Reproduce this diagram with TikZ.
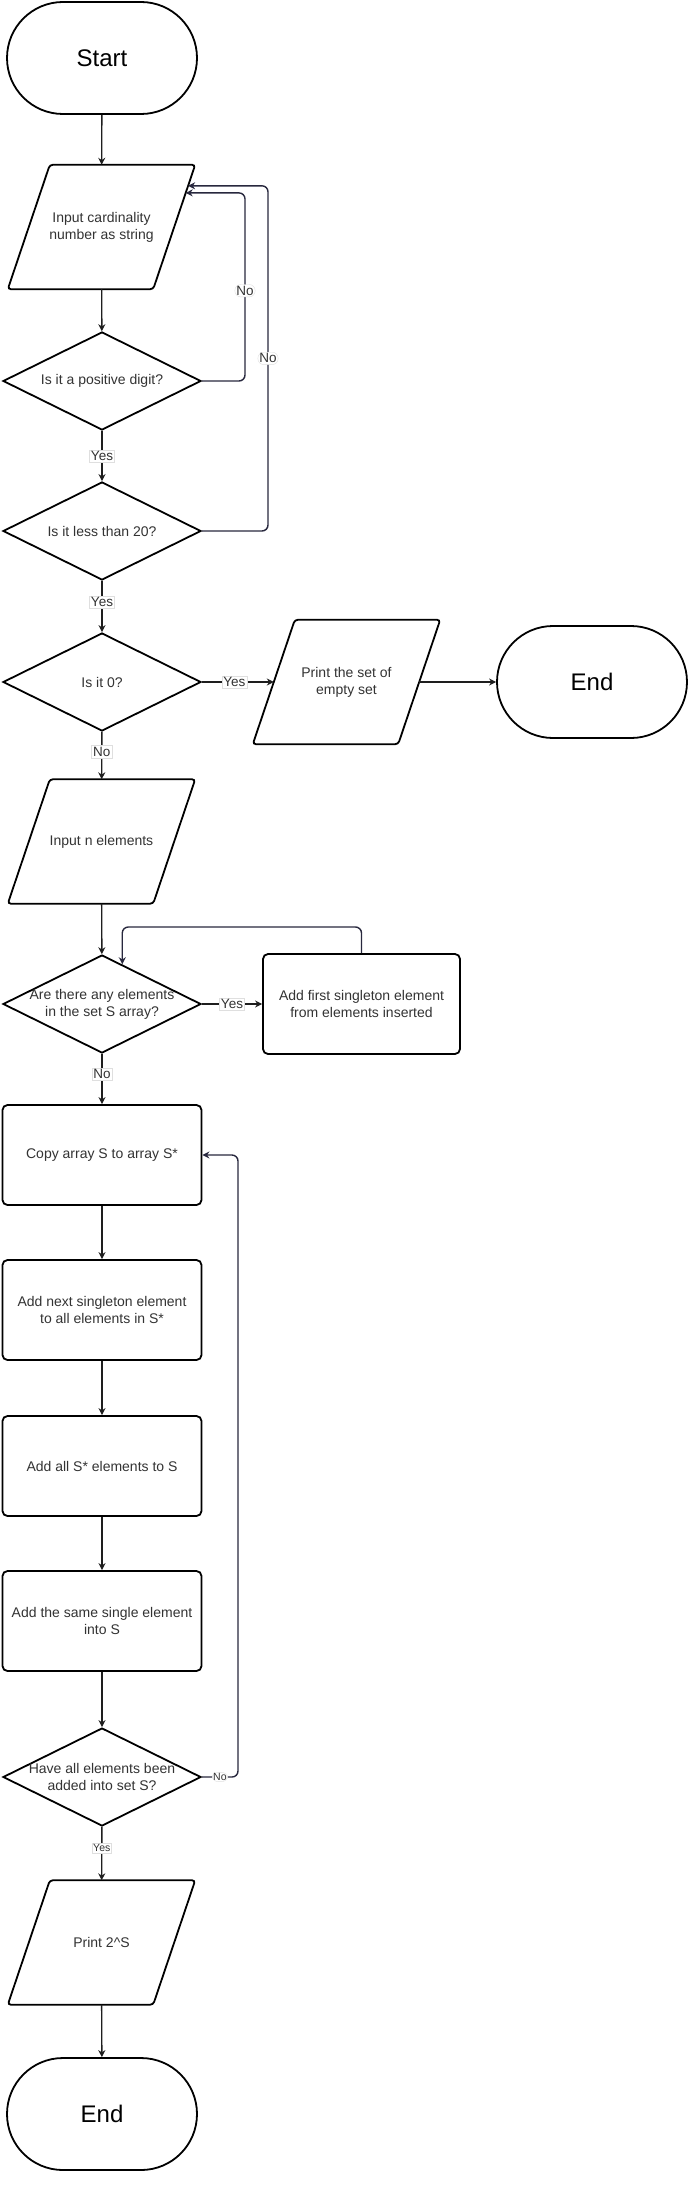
\documentclass[tikz,border=0pt]{standalone}
\usepackage{fontspec}
\setmainfont{Liberation Sans}
\usetikzlibrary{shapes.geometric,shapes.misc,arrows.meta,calc}
\definecolor{txt}{RGB}{51,51,51}
\definecolor{lnk}{RGB}{30,30,30}
\definecolor{loopc}{RGB}{40,40,62}
\newcommand\drawpara[1]{\draw[iob] ($(#1.north west)+(42,0)$) -- (#1.north east) -- ($(#1.south east)+(-42,0)$) -- (#1.south west) -- cycle;}
\begin{document}
\begin{tikzpicture}[x=1pt,y=-1pt,
  term/.style={rounded rectangle, draw=black, line width=1.8pt, minimum width=190pt, minimum height=112pt, inner sep=0pt, font=\fontsize{24}{28}\selectfont},
  io/.style={rectangle, minimum width=187pt, minimum height=124pt, inner sep=0pt, align=center, text=txt, font=\fontsize{14}{17}\selectfont},
  iob/.style={draw=black, line width=1.8pt, rounded corners=3pt},
  dec/.style={diamond, draw=black, line width=1.8pt, minimum width=198pt, minimum height=98pt, inner sep=0pt},
  dtext/.style={align=center, text=txt, inner sep=0pt, font=\fontsize{14}{17}\selectfont},
  proc/.style={rectangle, rounded corners=5pt, draw=black, line width=1.8pt, minimum width=199pt, minimum height=100pt, align=center, text=txt, font=\fontsize{14}{17}\selectfont},
  arr/.style={draw=lnk, line width=1.4pt, -{Stealth[length=7pt,width=7pt]}},
  loopline/.style={arr, draw=loopc, rounded corners=6pt},
  lab/.style={fill=white, draw=gray!25, line width=0.4pt, inner sep=1.5pt, text=txt, font=\fontsize{13.5}{15}\selectfont},
  slab/.style={lab, inner sep=1pt, font=\fontsize{10.5}{12}\selectfont}
]
\fill[white] (0,0) rectangle (690,2186);
\useasboundingbox (0,0) rectangle (690,2186);

% nodes
\node[term] (start) at (102,58) {Start};
\node[io] (in1) at (101.5,227) {Input cardinality\\number as string};
\drawpara{in1}
\node[dec] (d1) at (102,381) {};
\node[dtext] (t1) at (d1) {Is it a positive digit?};
\node[dec] (d2) at (102,531) {};
\node[dtext] (t2) at (d2) {Is it less than 20?};
\node[dec] (d3) at (102,682) {};
\node[dtext] (t3) at (d3) {Is it 0?};
\node[io] (pr) at (346.5,682) {Print the set of\\empty set};
\drawpara{pr}
\node[term] (endR) at (592,682) {End};
\node[io] (in2) at (101.5,841.5) {Input n elements};
\drawpara{in2}
\node[dec] (d4) at (102,1004) {};
\node[dtext] (t4) at (d4) {Are there any elements\\in the set S array?};
\node[proc, minimum width=197pt] (b0) at (361.5,1004) {Add first singleton element\\from elements inserted};
\node[proc] (b1) at (102,1155) {Copy array S to array S*};
\node[proc] (b2) at (102,1310) {Add next singleton element\\to all elements in S*};
\node[proc] (b3) at (102,1466) {Add all S* elements to S};
\node[proc] (b4) at (102,1621) {Add the same single element\\into S};
\node[dec] (d5) at (102,1777) {};
\node[dtext] (t5) at (d5) {Have all elements been\\added into set S?};
\node[io] (out) at (101.5,1942.5) {Print 2\textasciicircum S};
\drawpara{out}
\node[term] (endB) at (102,2114) {End};

% helper coordinates
\coordinate (x1) at (245,0);
\coordinate (x2) at (268,0);
\coordinate (y3) at (0,927);
\coordinate (x4) at (238,0);
\coordinate (in1a) at ($(in1.north east)!0.226!(in1.south east)+(-9.5,0)$);
\coordinate (in1b) at ($(in1.north east)!0.169!(in1.south east)+(-7.1,0)$);
\coordinate (prL) at ($(pr.west)+(21,0)$);
\coordinate (prR) at ($(pr.east)+(-21,0)$);

% main connectors
\draw[arr] (start) -- (in1);
\draw[arr] (in1) -- (d1);
\draw[arr] (d1) -- node[lab]{Yes} (d2);
\draw[arr] (d2) -- node[lab, pos=0.42]{Yes} (d3);
\draw[arr] (d3) -- node[lab, pos=0.45]{Yes} (prL);
\draw[arr] (prR) -- (endR);
\draw[arr] (d3) -- node[lab, pos=0.42]{No} (in2);
\draw[arr] (in2) -- (d4);
\draw[arr] (d4) -- node[lab]{Yes} (b0);
\draw[arr] (d4) -- node[lab, pos=0.4]{No} (b1);
\draw[arr] (b1) -- (b2);
\draw[arr] (b2) -- (b3);
\draw[arr] (b3) -- (b4);
\draw[arr] (b4) -- (d5);
\draw[arr] (d5) -- node[slab, pos=0.4]{Yes} (out);
\draw[arr] (out) -- (endB);

% loops
\draw[loopline] (d1.east) -- (d1.east -| x1) -- node[lab, pos=0.48]{No} (x1 |- in1a) -- (in1a);
\draw[loopline] (d2.east) -- (d2.east -| x2) -- node[lab, pos=0.5]{No} (x2 |- in1b) -- (in1b);
\draw[loopline] (b0.north) -- (b0.north |- y3) -- (d4.63 |- y3) -- (d4.63);
\draw[loopline] (d5.east) -- node[slab]{No} (d5.east -| x4) -- (x4 |- b1.east) -- (b1.east);
\end{tikzpicture}
\end{document}
